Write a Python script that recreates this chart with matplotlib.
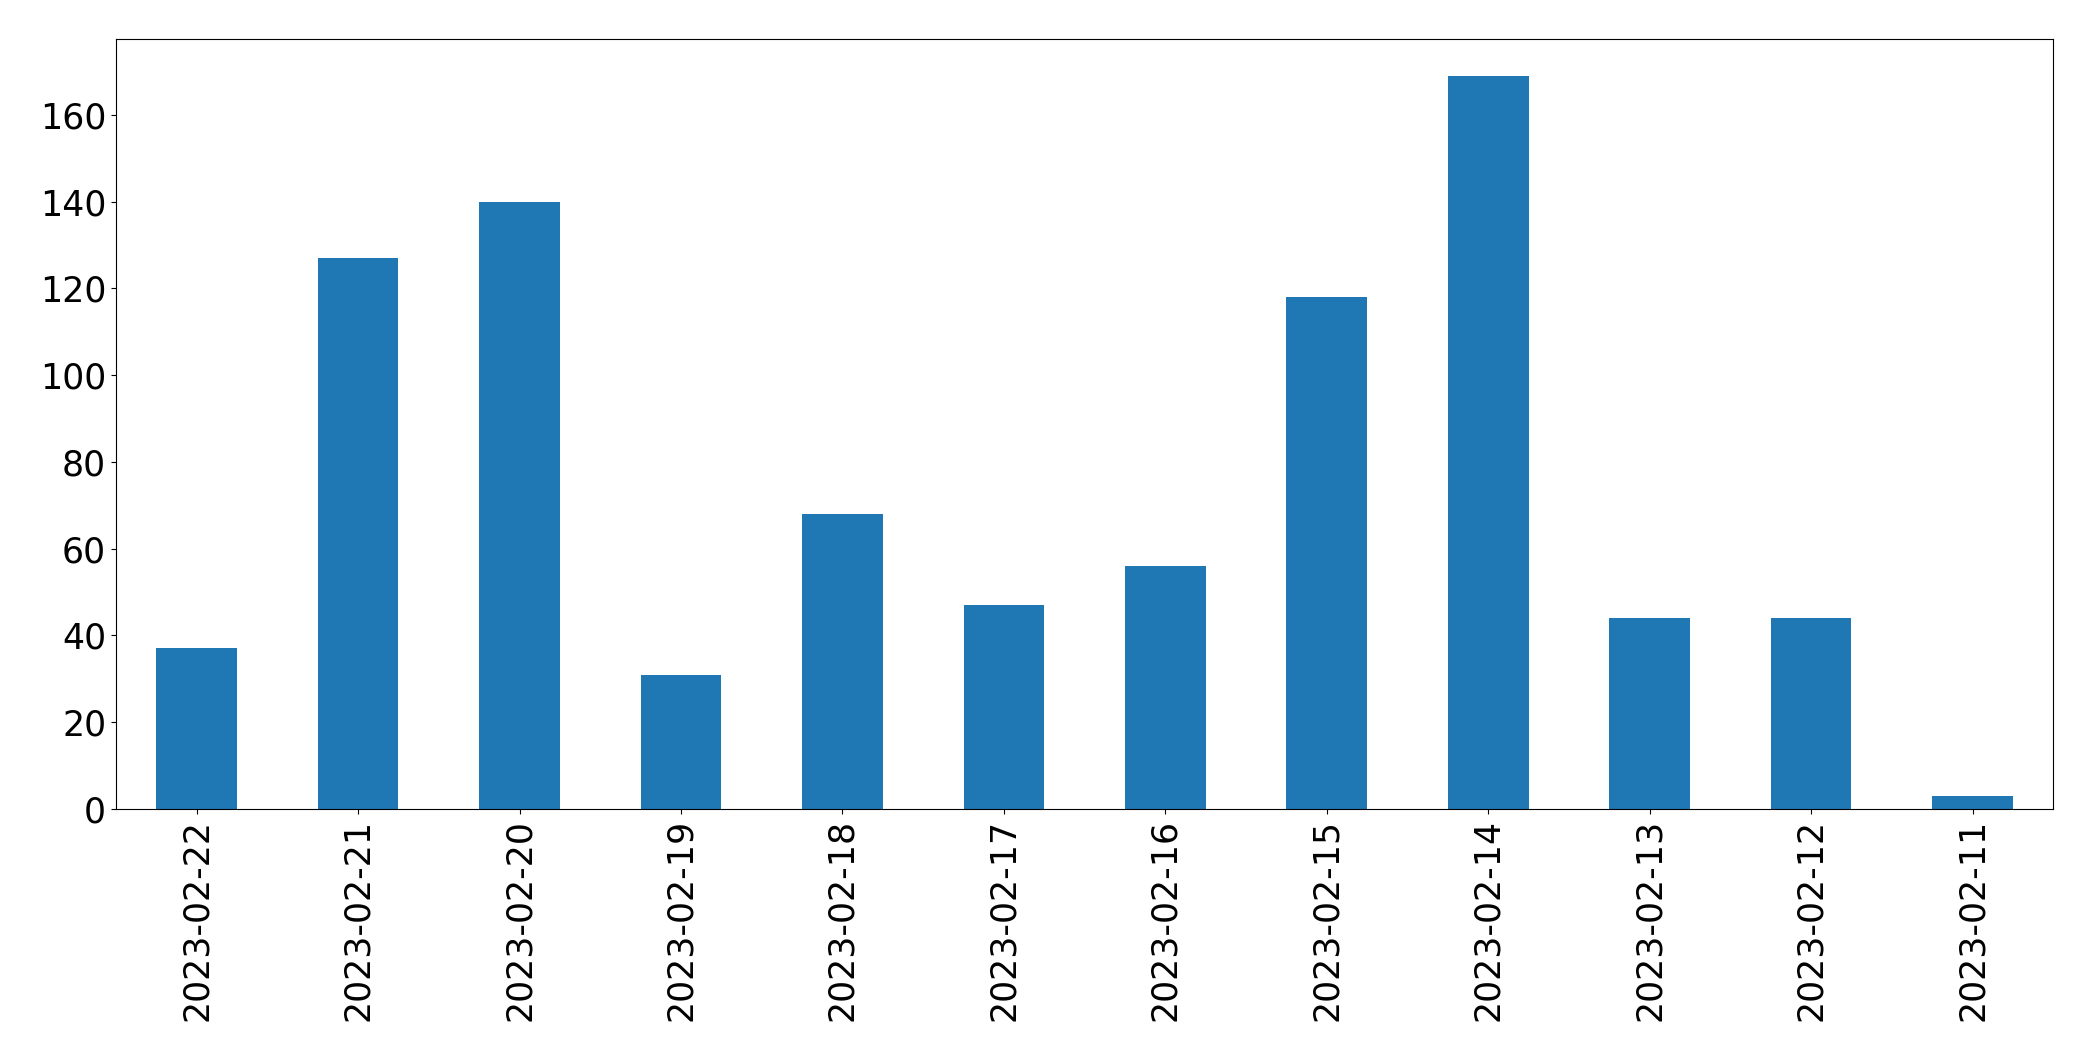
import matplotlib

matplotlib.use("Agg")
import matplotlib.pyplot as plt

dates = [
    "2023-02-22",
    "2023-02-21",
    "2023-02-20",
    "2023-02-19",
    "2023-02-18",
    "2023-02-17",
    "2023-02-16",
    "2023-02-15",
    "2023-02-14",
    "2023-02-13",
    "2023-02-12",
    "2023-02-11",
]
counts = [37, 127, 140, 31, 68, 47, 56, 118, 169, 44, 44, 3]

fig = plt.figure(figsize=(20.93, 10.61), dpi=100)
ax = fig.add_axes([0.0554, 0.2375, 0.9256, 0.7257])

x = range(len(dates))
ax.bar(x, counts, width=0.5, color="#1f77b4")
ax.set_xlim(-0.5, len(dates) - 0.5)
ax.set_xticks(list(x))
ax.set_xticklabels(dates, rotation=90)
ax.tick_params(axis="both", labelsize=25)

fig.savefig("out.png", dpi=100)
